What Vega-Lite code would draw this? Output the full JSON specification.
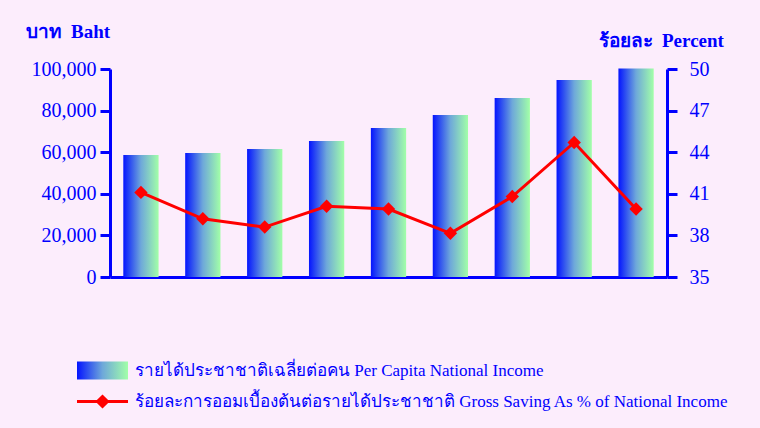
{
  "$schema": "https://vega.github.io/schema/vega-lite/v6.json",
  "width": 557,
  "height": 208,
  "autosize": {"type": "none"},
  "padding": {"left": 110, "top": 69, "right": 93, "bottom": 151},
  "background": "#fcedfc",
  "config": {
    "view": {"stroke": null},
    "axis": {"labelFont": "Liberation Serif", "titleFont": "Liberation Serif"},
    "legend": {"labelFont": "Liberation Serif"}
  },
  "data": {
    "values": [
      {"period": "1", "income": 58700, "saving": 41.1},
      {"period": "2", "income": 59600, "saving": 39.2},
      {"period": "3", "income": 61500, "saving": 38.6},
      {"period": "4", "income": 65400, "saving": 40.1},
      {"period": "5", "income": 71600, "saving": 39.9},
      {"period": "6", "income": 77900, "saving": 38.15},
      {"period": "7", "income": 86000, "saving": 40.8},
      {"period": "8", "income": 94700, "saving": 44.7},
      {"period": "9", "income": 100200, "saving": 39.9}
    ]
  },
  "encoding": {
    "x": {
      "field": "period",
      "type": "ordinal",
      "scale": {"paddingInner": 0.43, "paddingOuter": 0.215},
      "axis": {
        "title": null,
        "labels": false,
        "ticks": false,
        "domainColor": "#0000ff",
        "domainWidth": 3
      }
    }
  },
  "layer": [
    {
      "mark": {
        "type": "bar",
        "color": {
          "gradient": "linear",
          "x1": 0, "y1": 0, "x2": 1, "y2": 0,
          "stops": [
            {"offset": 0, "color": "#0414ff"},
            {"offset": 0.5, "color": "#6ea8da"},
            {"offset": 1, "color": "#a2ffa8"}
          ]
        }
      },
      "encoding": {
        "y": {
          "field": "income",
          "type": "quantitative",
          "scale": {"domain": [0, 100000], "nice": false},
          "axis": {
            "orient": "left",
            "values": [0, 20000, 40000, 60000, 80000, 100000],
            "format": ",.0f",
            "grid": false,
            "labelColor": "#0000ff",
            "labelFontSize": 20,
            "labelPadding": 4,
            "tickSize": 10,
            "tickWidth": 3,
            "tickColor": "#0000ff",
            "domainColor": "#0000ff",
            "domainWidth": 3,
            "title": "บาท\u00a0\u00a0Baht",
            "titleColor": "#0000ff",
            "titleFontSize": 19,
            "titleFontWeight": "bold",
            "titleAngle": 0,
            "titleAlign": "left",
            "titleBaseline": "alphabetic",
            "titleX": -85,
            "titleY": -32
          }
        },
        "opacity": {
          "datum": "รายได้ประชาชาติเฉลี่ยต่อคน Per Capita National Income",
          "type": "ordinal",
          "scale": {"type": "ordinal", "range": [1]},
          "legend": {
            "title": null,
            "orient": "none",
            "legendX": -33,
            "legendY": 276,
            "padding": 0,
            "symbolType": "M-1,-0.35H1V0.35H-1Z",
            "symbolSize": 2601,
            "symbolStrokeWidth": 0,
            "labelFontSize": 17,
            "labelColor": "#0000ff",
            "labelOffset": 7,
            "labelLimit": 0,
            "encode": {
              "symbols": {
                "update": {
                  "fill": {
                    "value": {
                      "gradient": "linear",
                      "x1": 0, "y1": 0, "x2": 1, "y2": 0,
                      "stops": [
                        {"offset": 0, "color": "#0414ff"},
                        {"offset": 0.5, "color": "#6ea8da"},
                        {"offset": 1, "color": "#a2ffa8"}
                      ]
                    }
                  },
                  "opacity": {"value": 1},
                  "strokeWidth": {"value": 0}
                }
              }
            }
          }
        }
      }
    },
    {
      "mark": {
        "type": "line",
        "strokeWidth": 3,
        "point": {"shape": "diamond", "size": 180, "filled": true}
      },
      "encoding": {
        "y": {
          "field": "saving",
          "type": "quantitative",
          "scale": {"domain": [35, 50], "nice": false, "zero": false},
          "axis": {
            "orient": "right",
            "values": [35, 38, 41, 44, 47, 50],
            "grid": false,
            "labelColor": "#0000ff",
            "labelFontSize": 20,
            "labelPadding": 12,
            "tickSize": 10,
            "tickWidth": 3,
            "tickColor": "#0000ff",
            "domainColor": "#0000ff",
            "domainWidth": 3,
            "title": "ร้อยละ\u00a0\u00a0Percent",
            "titleColor": "#0000ff",
            "titleFontSize": 19,
            "titleFontWeight": "bold",
            "titleAngle": 0,
            "titleAlign": "left",
            "titleBaseline": "alphabetic",
            "titleX": -69,
            "titleY": -23
          }
        },
        "color": {
          "datum": "ร้อยละการออมเบื้องต้นต่อรายได้ประชาชาติ Gross Saving As % of National Income",
          "type": "nominal",
          "scale": {"range": ["#ff0000"]},
          "legend": {
            "title": null,
            "orient": "none",
            "legendX": -33,
            "legendY": 307,
            "padding": 0,
            "symbolType": "M-1,-0.06H-0.22L0,-0.27L0.22,-0.06H1V0.06H0.22L0,0.27L-0.22,0.06H-1Z",
            "symbolSize": 2601,
            "labelFontSize": 17,
            "labelColor": "#0000ff",
            "labelOffset": 7,
            "labelLimit": 0,
            "encode": {
              "symbols": {
                "update": {
                  "fill": {"value": "#ff0000"},
                  "stroke": {"value": null},
                  "strokeWidth": {"value": 0},
                  "opacity": {"value": 1}
                }
              }
            }
          }
        }
      }
    }
  ],
  "resolve": {"scale": {"y": "independent"}}
}
